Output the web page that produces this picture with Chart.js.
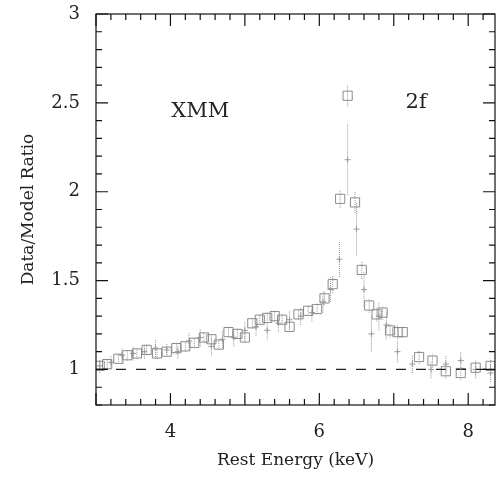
<!DOCTYPE html>
<html>
<head>
<meta charset="utf-8">
<script src="https://cdn.jsdelivr.net/npm/chart.js@4/dist/chart.umd.min.js"></script>
<style>
  body { margin: 0; background: #fff; }
  #wrap { width: 496px; height: 487px; }
</style>
</head>
<body>
<div id="wrap"><canvas id="ratioChart" width="496" height="487"></canvas></div>
<script>
// XMM data/model ratio, squares
var sqE   = [3.05, 3.15, 3.3, 3.42, 3.55, 3.68, 3.82, 3.95, 4.08, 4.2, 4.32, 4.45, 4.55, 4.65, 4.78, 4.9, 5.0, 5.1, 5.2, 5.3, 5.4, 5.5, 5.6, 5.72, 5.85, 5.97, 6.07, 6.18, 6.28, 6.38, 6.48, 6.57, 6.67, 6.77, 6.85, 6.95, 7.05, 7.12, 7.34, 7.52, 7.7, 7.9, 8.1, 8.3];
var sqR   = [1.02, 1.03, 1.06, 1.08, 1.09, 1.11, 1.09, 1.10, 1.12, 1.13, 1.15, 1.18, 1.17, 1.14, 1.21, 1.20, 1.18, 1.26, 1.28, 1.29, 1.30, 1.28, 1.24, 1.31, 1.33, 1.34, 1.40, 1.48, 1.96, 2.54, 1.94, 1.56, 1.36, 1.31, 1.32, 1.22, 1.21, 1.21, 1.07, 1.05, 0.99, 0.98, 1.01, 1.02];
var sqErr = [0.03, 0.03, 0.03, 0.03, 0.03, 0.03, 0.03, 0.03, 0.03, 0.03, 0.03, 0.03, 0.03, 0.03, 0.03, 0.03, 0.03, 0.03, 0.03, 0.03, 0.03, 0.03, 0.03, 0.03, 0.03, 0.03, 0.04, 0.05, 0.05, 0.06, 0.06, 0.05, 0.04, 0.04, 0.04, 0.04, 0.04, 0.03, 0.04, 0.04, 0.04, 0.04, 0.04, 0.04];

// second ratio set, crosses
var crE   = [3.05, 3.2, 3.35, 3.5, 3.65, 3.8, 3.95, 4.1, 4.25, 4.4, 4.55, 4.7, 4.85, 5.0, 5.15, 5.3, 5.45, 5.6, 5.75, 5.9, 6.05, 6.15, 6.27, 6.38, 6.5, 6.6, 6.7, 6.8, 6.9, 7.05, 7.25, 7.5, 7.7, 7.9, 8.1, 8.3];
var crR   = [1.02, 1.04, 1.08, 1.09, 1.10, 1.12, 1.11, 1.10, 1.16, 1.18, 1.13, 1.17, 1.18, 1.22, 1.24, 1.22, 1.26, 1.28, 1.30, 1.32, 1.38, 1.45, 1.62, 2.18, 1.79, 1.45, 1.20, 1.30, 1.25, 1.10, 1.03, 1.00, 1.03, 1.05, 1.00, 0.98];
var crErr = [0.04, 0.04, 0.04, 0.04, 0.04, 0.05, 0.04, 0.04, 0.05, 0.05, 0.05, 0.05, 0.05, 0.05, 0.05, 0.05, 0.05, 0.05, 0.05, 0.05, 0.06, 0.07, 0.10, 0.20, 0.15, 0.10, 0.10, 0.08, 0.08, 0.06, 0.05, 0.05, 0.05, 0.05, 0.05, 0.05];

var xTicks = [4, 6, 8];
var yTicks = [1, 1.5, 2, 2.5, 3];
var unity = 1;

function pts(xs, ys) {
  return xs.map(function (x, i) { return { x: x, y: ys[i] }; });
}

// error bars + inward ticks + frame, drawn with the chart's own scales
var pgFrame = {
  id: 'pgFrame',
  afterDatasetsDraw: function (chart) {
    var c = chart.ctx, a = chart.chartArea;
    var xs = chart.scales.x, ys = chart.scales.y;
    c.save();
    c.strokeStyle = '#999';
    c.lineWidth = 1;
    c.setLineDash([1, 1]);
    function bars(ex, ey, ee) {
      ex.forEach(function (e, i) {
        var px = xs.getPixelForValue(e);
        c.beginPath();
        c.moveTo(px, ys.getPixelForValue(ey[i] - ee[i]));
        c.lineTo(px, ys.getPixelForValue(ey[i] + ee[i]));
        c.stroke();
      });
    }
    bars(sqE, sqR, sqErr);
    bars(crE, crR, crErr);
    c.setLineDash([]);
    c.strokeStyle = '#111';
    c.lineWidth = 1.2;
    c.strokeRect(a.left, a.top, a.right - a.left, a.bottom - a.top);
    // y ticks every 0.1
    for (var v = 0.8; v <= 3.001; v += 0.1) {
      var py = ys.getPixelForValue(v);
      var major = Math.abs(v * 2 - Math.round(v * 2)) < 1e-6;
      var len = major ? 12 : 6;
      c.beginPath();
      c.moveTo(a.left, py); c.lineTo(a.left + len, py);
      c.moveTo(a.right, py); c.lineTo(a.right - len, py);
      c.stroke();
    }
    // x ticks every 0.2
    for (var u = 3; u <= 8.4; u += 0.2) {
      var px = xs.getPixelForValue(u);
      var maj = Math.abs(u - Math.round(u)) < 1e-6;
      var l = maj ? 12 : 6;
      c.beginPath();
      c.moveTo(px, a.bottom); c.lineTo(px, a.bottom - l);
      c.moveTo(px, a.top); c.lineTo(px, a.top + l);
      c.stroke();
    }
    // panel labels
    c.fillStyle = '#222';
    c.font = '21px "DejaVu Serif"';
    c.textAlign = 'center';
    c.textBaseline = 'middle';
    c.fillText('XMM', xs.getPixelForValue(4.4), ys.getPixelForValue(2.45));
    c.fillText('2f', xs.getPixelForValue(7.3), ys.getPixelForValue(2.5));
    c.restore();
  }
};

var ctx = document.getElementById('ratioChart');

var myChart = new Chart(ctx, {
  type: 'scatter',
  data: {
    datasets: [{
      label: 'unity',
      type: 'line',
      data: [{ x: 3, y: unity }, { x: 8.36, y: unity }],
      borderColor: '#222',
      borderWidth: 1.3,
      borderDash: [10, 10],
      pointRadius: 0
    }, {
      label: 'XMM',
      data: pts(sqE, sqR),
      pointStyle: 'rect',
      pointRadius: 6.5,
      borderColor: '#8a8a8a',
      borderWidth: 1,
      backgroundColor: 'rgba(0,0,0,0)'
    }, {
      label: 'crosses',
      data: pts(crE, crR),
      pointStyle: 'cross',
      pointRadius: 3,
      borderColor: '#999',
      borderWidth: 1
    }]
  },
  options: {
    responsive: false,
    animation: false,
    layout: { autoPadding: false, padding: { left: 18, right: 1, top: 14, bottom: 0 } },
    plugins: { legend: { display: false }, tooltip: { enabled: false } },
    scales: {
      x: {
        type: 'linear',
        min: 3,
        max: 8.36,
        grid: { display: false },
        border: { display: false },
        afterBuildTicks: function (s) { s.ticks = xTicks.map(function (v) { return { value: v }; }); },
        afterFit: function (s) { s.height = 82; s.paddingLeft = 0; s.paddingRight = 0; },
        ticks: {
          color: '#222',
          font: { family: 'DejaVu Serif', size: 18 },
          padding: 9,
          callback: function (v) { return String(v); }
        },
        title: {
          display: true,
          text: 'Rest Energy (keV)',
          color: '#222',
          font: { family: 'DejaVu Serif', size: 17 },
          padding: { top: 4, bottom: 16 }
        }
      },
      y: {
        min: 0.8,
        max: 3,
        grid: { display: false },
        border: { display: false },
        afterBuildTicks: function (s) { s.ticks = yTicks.map(function (v) { return { value: v }; }); },
        afterFit: function (s) { s.width = 78; s.paddingTop = 0; s.paddingBottom = 0; },
        ticks: {
          color: '#222',
          font: { family: 'DejaVu Serif', size: 18 },
          padding: 8,
          callback: function (v) { return String(v); }
        },
        title: {
          display: true,
          text: 'Data/Model Ratio',
          color: '#222',
          font: { family: 'DejaVu Serif', size: 17 },
          padding: { top: 0, bottom: 8 }
        }
      }
    }
  },
  plugins: [pgFrame]
});
</script>
</body>
</html>
